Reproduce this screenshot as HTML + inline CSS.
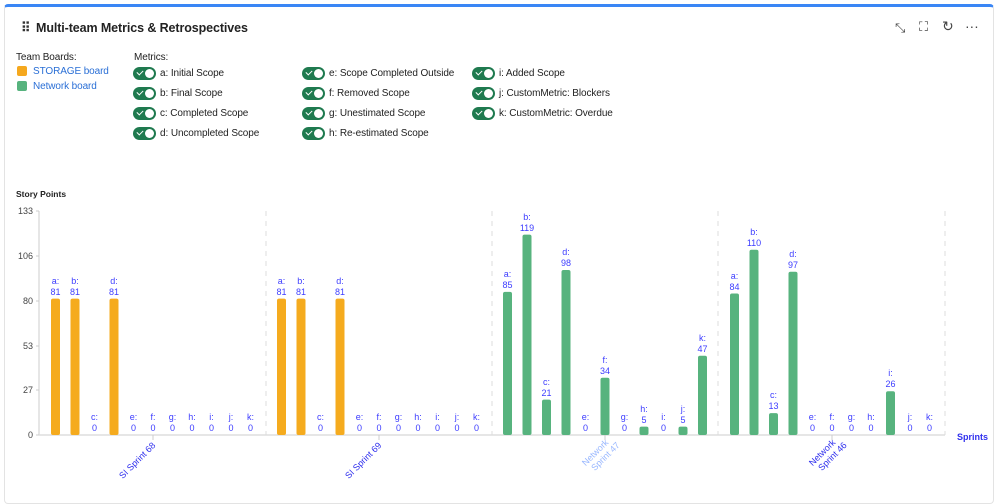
<!DOCTYPE html>
<html><head><meta charset="utf-8"><style>
body{margin:0;width:999px;height:500px;background:#fff;font-family:"Liberation Sans",sans-serif;overflow:hidden}
.card{position:absolute;left:4px;top:4px;width:990px;height:500px;border:1px solid #e3e3e3;border-top:3px solid #3a86f5;border-radius:4px;box-sizing:border-box}
.t{position:absolute;font-size:10px;color:#222;white-space:nowrap;letter-spacing:-0.1px}
.tg{position:absolute;width:23px;height:13px;border-radius:7px;background:#1f7a4f}
.tg:after{content:"";position:absolute;right:2px;top:2px;width:9px;height:9px;border-radius:50%;background:#fff}
.tg:before{content:"";position:absolute;left:4px;top:3px;width:5px;height:3px;border-left:1.5px solid #fff;border-bottom:1.5px solid #fff;transform:rotate(-45deg)}
</style></head><body>
<div class="card"></div>
<div class="t" style="left:21px;top:20px;font-size:13px;font-weight:bold;color:#333">⠿</div>
<div class="t" style="left:36px;top:21px;font-size:12.5px;font-weight:bold;color:#222">Multi-team Metrics &amp; Retrospectives</div>
<div class="t" style="left:895px;top:20px;font-size:13px;color:#444">⤡</div>
<div class="t" style="left:919px;top:19px;font-size:13px;color:#444">⛶</div>
<div class="t" style="left:942px;top:18px;font-size:14px;color:#444">↻</div>
<div class="t" style="left:965px;top:18px;font-size:14px;color:#444">···</div>
<div class="t" style="left:16px;top:52px">Team Boards:</div>
<div style="position:absolute;left:17px;top:66px;width:10px;height:10px;background:#f5a81e;border-radius:2px"></div>
<div style="position:absolute;left:17px;top:81px;width:10px;height:10px;background:#57b37e;border-radius:2px"></div>
<div class="t" style="left:33px;top:66px;color:#2a6fd6">STORAGE board</div>
<div class="t" style="left:33px;top:81px;color:#2a6fd6">Network board</div>
<div class="t" style="left:134px;top:52px">Metrics:</div>
<div class="tg" style="left:133px;top:67px"></div><div class="t" style="left:160px;top:68px">a: Initial Scope</div>
<div class="tg" style="left:133px;top:87px"></div><div class="t" style="left:160px;top:88px">b: Final Scope</div>
<div class="tg" style="left:133px;top:107px"></div><div class="t" style="left:160px;top:108px">c: Completed Scope</div>
<div class="tg" style="left:133px;top:127px"></div><div class="t" style="left:160px;top:128px">d: Uncompleted Scope</div>
<div class="tg" style="left:302px;top:67px"></div><div class="t" style="left:329px;top:68px">e: Scope Completed Outside</div>
<div class="tg" style="left:302px;top:87px"></div><div class="t" style="left:329px;top:88px">f: Removed Scope</div>
<div class="tg" style="left:302px;top:107px"></div><div class="t" style="left:329px;top:108px">g: Unestimated Scope</div>
<div class="tg" style="left:302px;top:127px"></div><div class="t" style="left:329px;top:128px">h: Re-estimated Scope</div>
<div class="tg" style="left:472px;top:67px"></div><div class="t" style="left:499px;top:68px">i: Added Scope</div>
<div class="tg" style="left:472px;top:87px"></div><div class="t" style="left:499px;top:88px">j: CustomMetric: Blockers</div>
<div class="tg" style="left:472px;top:107px"></div><div class="t" style="left:499px;top:108px">k: CustomMetric: Overdue</div>
<svg style="position:absolute;left:0;top:0" width="999" height="500" font-family="Liberation Sans, sans-serif">
<text x="16" y="197" font-size="8.5" font-weight="bold" fill="#222">Story Points</text>
<g font-size="9" fill="#444" text-anchor="end">
<text x="33" y="214">133</text><text x="33" y="259">106</text><text x="33" y="304">80</text><text x="33" y="349">53</text><text x="33" y="393">27</text><text x="33" y="438">0</text></g>
<g stroke="#ccc"><line x1="39" y1="211" x2="39" y2="435"/><line x1="36" y1="211" x2="39" y2="211"/><line x1="36" y1="256" x2="39" y2="256"/><line x1="36" y1="301" x2="39" y2="301"/><line x1="36" y1="346" x2="39" y2="346"/><line x1="36" y1="390" x2="39" y2="390"/><line x1="36" y1="435" x2="39" y2="435"/>
<line x1="39" y1="435" x2="945" y2="435" stroke="#ddd" stroke-width="1.5"/>
<line x1="153" y1="435" x2="153" y2="440"/><line x1="379" y1="435" x2="379" y2="440"/><line x1="605" y1="435" x2="605" y2="440"/><line x1="832" y1="435" x2="832" y2="440"/></g>
<g stroke="#ddd" stroke-dasharray="5,5"><line x1="266" y1="211" x2="266" y2="435"/><line x1="492" y1="211" x2="492" y2="435"/><line x1="718" y1="211" x2="718" y2="435"/><line x1="945" y1="211" x2="945" y2="435"/></g>
<g fill="#f5ab1e">
<rect x="51" y="298.6" width="9" height="136.4" rx="2"/><rect x="70.5" y="298.6" width="9" height="136.4" rx="2"/><rect x="109.5" y="298.6" width="9" height="136.4" rx="2"/>
<rect x="277" y="298.6" width="9" height="136.4" rx="2"/><rect x="296.5" y="298.6" width="9" height="136.4" rx="2"/><rect x="335.5" y="298.6" width="9" height="136.4" rx="2"/></g>
<g fill="#57b37e">
<rect x="503" y="291.9" width="9" height="143.1" rx="2"/><rect x="522.5" y="234.6" width="9" height="200.4" rx="2"/><rect x="542" y="399.6" width="9" height="35.4" rx="2"/><rect x="561.5" y="270" width="9" height="165" rx="2"/><rect x="600.5" y="377.7" width="9" height="57.3" rx="2"/><rect x="639.5" y="426.6" width="9" height="8.4" rx="2"/><rect x="678.5" y="426.6" width="9" height="8.4" rx="2"/><rect x="698" y="355.8" width="9" height="79.2" rx="2"/>
<rect x="730" y="293.5" width="9" height="141.5" rx="2"/><rect x="749.5" y="249.8" width="9" height="185.2" rx="2"/><rect x="769" y="413.1" width="9" height="21.9" rx="2"/><rect x="788.5" y="271.7" width="9" height="163.3" rx="2"/><rect x="886" y="391.2" width="9" height="43.8" rx="2"/></g>
<g font-size="9" fill="#3d3dff" text-anchor="middle">
<text x="55.5" y="284">a:</text><text x="55.5" y="295">81</text><text x="75" y="284">b:</text><text x="75" y="295">81</text><text x="94.5" y="420">c:</text><text x="94.5" y="431">0</text><text x="114" y="284">d:</text><text x="114" y="295">81</text>
<text x="133.5" y="420">e:</text><text x="133.5" y="431">0</text><text x="153" y="420">f:</text><text x="153" y="431">0</text><text x="172.5" y="420">g:</text><text x="172.5" y="431">0</text><text x="192" y="420">h:</text><text x="192" y="431">0</text><text x="211.5" y="420">i:</text><text x="211.5" y="431">0</text><text x="231" y="420">j:</text><text x="231" y="431">0</text><text x="250.5" y="420">k:</text><text x="250.5" y="431">0</text>
<text x="281.5" y="284">a:</text><text x="281.5" y="295">81</text><text x="301" y="284">b:</text><text x="301" y="295">81</text><text x="320.5" y="420">c:</text><text x="320.5" y="431">0</text><text x="340" y="284">d:</text><text x="340" y="295">81</text>
<text x="359.5" y="420">e:</text><text x="359.5" y="431">0</text><text x="379" y="420">f:</text><text x="379" y="431">0</text><text x="398.5" y="420">g:</text><text x="398.5" y="431">0</text><text x="418" y="420">h:</text><text x="418" y="431">0</text><text x="437.5" y="420">i:</text><text x="437.5" y="431">0</text><text x="457" y="420">j:</text><text x="457" y="431">0</text><text x="476.5" y="420">k:</text><text x="476.5" y="431">0</text>
<text x="507.5" y="277">a:</text><text x="507.5" y="288">85</text><text x="527" y="220">b:</text><text x="527" y="231">119</text><text x="546.5" y="385">c:</text><text x="546.5" y="396">21</text><text x="566" y="255">d:</text><text x="566" y="266">98</text>
<text x="585.5" y="420">e:</text><text x="585.5" y="431">0</text><text x="605" y="363">f:</text><text x="605" y="374">34</text><text x="624.5" y="420">g:</text><text x="624.5" y="431">0</text><text x="644" y="412">h:</text><text x="644" y="423">5</text><text x="663.5" y="420">i:</text><text x="663.5" y="431">0</text><text x="683" y="412">j:</text><text x="683" y="423">5</text><text x="702.5" y="341">k:</text><text x="702.5" y="352">47</text>
<text x="734.5" y="279">a:</text><text x="734.5" y="290">84</text><text x="754" y="235">b:</text><text x="754" y="246">110</text><text x="773.5" y="398">c:</text><text x="773.5" y="409">13</text><text x="793" y="257">d:</text><text x="793" y="268">97</text>
<text x="812.5" y="420">e:</text><text x="812.5" y="431">0</text><text x="832" y="420">f:</text><text x="832" y="431">0</text><text x="851.5" y="420">g:</text><text x="851.5" y="431">0</text><text x="871" y="420">h:</text><text x="871" y="431">0</text><text x="890.5" y="376">i:</text><text x="890.5" y="387">26</text><text x="910" y="420">j:</text><text x="910" y="431">0</text><text x="929.5" y="420">k:</text><text x="929.5" y="431">0</text>
</g>
<g font-size="9" text-anchor="end">
<text transform="translate(156,446) rotate(-45)" fill="#3030ee">SI Sprint 68</text>
<text transform="translate(382,446) rotate(-45)" fill="#3030ee">SI Sprint 69</text>
<text transform="translate(609,443) rotate(-45)" fill="#9ab8ff"><tspan x="0" y="0">Network</tspan><tspan x="6" y="10">Sprint 47</tspan></text>
<text transform="translate(836,443) rotate(-45)" fill="#3030ee"><tspan x="0" y="0">Network</tspan><tspan x="6" y="10">Sprint 46</tspan></text>
</g>
<text x="957" y="440" font-size="9" font-weight="bold" fill="#3030ee">Sprints</text>
</svg>
</body></html>
